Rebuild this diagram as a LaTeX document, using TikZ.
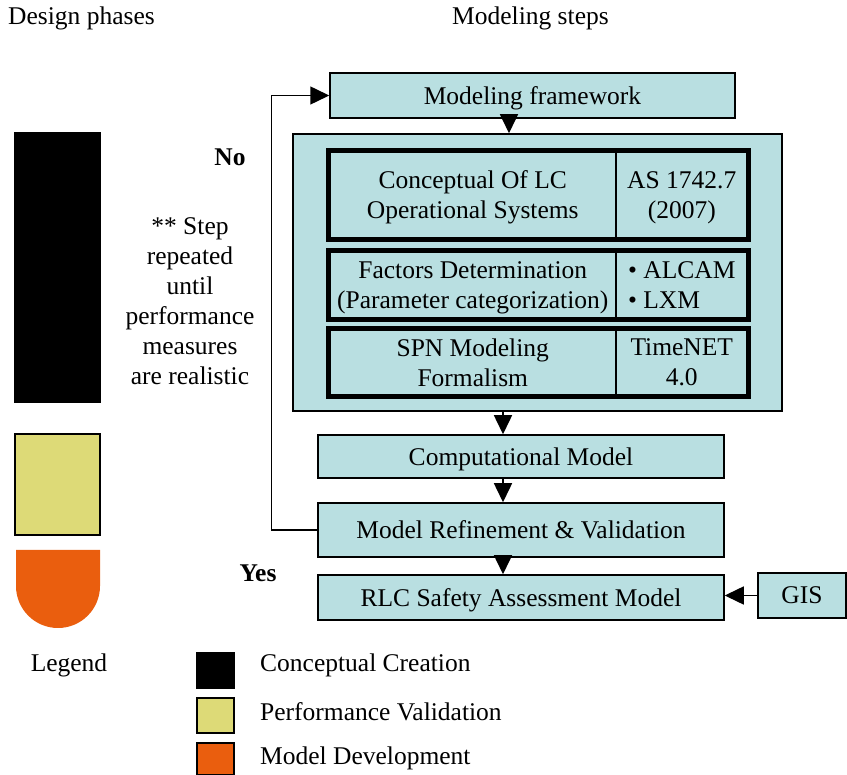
\documentclass[tikz,border=0pt]{standalone}
\usepackage{fontspec}
\setmainfont{Liberation Serif}
\usetikzlibrary{positioning,arrows.meta,calc}
\definecolor{stepfill}{HTML}{B9DFE1}
\definecolor{perfyellow}{HTML}{DDDA77}
\definecolor{devorange}{HTML}{EA5E0E}
\newcommand{\mytext}{\fontsize{25.5}{30}\selectfont}

\begin{document}
\begin{tikzpicture}[x=1pt,y=-1pt]
	\tikzset{
		mybox/.style={rectangle, draw=black, fill=stepfill, line width=1.5pt, inner sep=0pt, text depth=0pt, text centered, font=\mytext},
		mycell/.style={rectangle, draw=black, fill=stepfill, line width=2pt, inner sep=0pt, text depth=0pt, align=center, font=\mytext},
		myrow/.style={draw=black, line width=5pt},
		myarrow/.style={-{Triangle[width=18pt,length=19pt]}, line width=1.5pt},
		mylabel/.style={inner sep=0pt, font=\mytext},
		myswatch/.style={rectangle, draw=black, line width=1.5pt, inner sep=0pt}
	}
	\useasboundingbox (0,0) rectangle (847,775);

	% headings
	\node[mylabel, anchor=west] (phases) at (8,18) {Design phases};
	\node[mylabel, anchor=west] (steps) at (452,18) {Modeling steps};

	% design phase bars
	\node[myswatch, fill=black, minimum width=85, minimum height=269] (concbar) at (57.5,267.5) {};
	\node[myswatch, fill=perfyellow, minimum width=85, minimum height=101] (perfbar) at (57.5,484.5) {};
	\fill[devorange] (16,550) -- (100,550) -- (100,586) arc[start angle=0, end angle=-180, radius=42pt] -- cycle;

	% modeling steps
	\node[mybox, minimum width=405, minimum height=45] (frame) at (532.5,95.5) {Modeling framework};
	\node[mybox, minimum width=489, minimum height=277] (model) at (537.5,272.5) {};
	\node[mycell, minimum width=286.5, minimum height=87] (concL) at (472.75,195) {Conceptual Of LC\\Operational Systems};
	\node[mycell, minimum width=131.5, minimum height=87] (concR) at (681.75,195) {AS 1742.7\\(2007)};
	\node[mycell, minimum width=286.5, minimum height=67] (factL) at (472.75,285) {Factors Determination\\(Parameter categorization)};
	\node[mycell, minimum width=131.5, minimum height=67, align=left] (factR) at (681.75,285) {\textbullet\ ALCAM\\\textbullet\ LXM};
	\node[mycell, minimum width=286.5, minimum height=66] (spnL) at (472.75,362.5) {SPN Modeling\\Formalism};
	\node[mycell, minimum width=131.5, minimum height=66] (spnR) at (681.75,362.5) {TimeNET\\4.0};
	\draw[myrow] (concL.north west) rectangle (concR.south east);
	\draw[myrow] (factL.north west) rectangle (factR.south east);
	\draw[myrow] (spnL.north west) rectangle (spnR.south east);

	\node[mybox, minimum width=406, minimum height=43] (comp) at (521,456.5) {Computational Model};
	\node[mybox, minimum width=406, minimum height=54] (refine) at (521,530) {Model Refinement \& Validation};
	\node[mybox, minimum width=406, minimum height=45] (rlc) at (521,597.5) {RLC Safety Assessment Model};
	\node[mybox, minimum width=88, minimum height=45] (gis) at (802,595.5) {GIS};

	% side notes
	\node[mylabel, font=\mytext\bfseries] (no) at (230,157) {No};
	\node[mylabel, font=\mytext\bfseries] (yes) at (258,573) {Yes};
	\node[mylabel, align=center] (note) at (190,301) {** Step\\repeated\\until\\performance\\measures\\are realistic};

	% connectors
	\coordinate (col) at (503,0);
	\coordinate (col2) at (509,0);
	\draw[myarrow] (frame.south -| col2) -- (model.north -| col2);
	\draw[myarrow] (model.south -| col) -- (comp.north -| col);
	\draw[myarrow] (comp.south -| col) -- (refine.north -| col);
	\draw[myarrow] (refine.south -| col) -- (rlc.north -| col);
	\draw[myarrow] (gis.west) -- (rlc.east |- gis.west);
	\draw[myarrow] (refine.west) -- ++(-46,0) |- (frame.west);

	% legend
	\node[mylabel] (legend) at (69,665) {Legend};
	\node[myswatch, fill=black, minimum width=37, minimum height=35] (key1) at (215.5,670.5) {};
	\node[myswatch, fill=perfyellow, minimum width=37, minimum height=35] (key2) at (215.5,715.5) {};
	\node[myswatch, fill=devorange, minimum width=37, minimum height=32] (key3) at (215.5,759) {};
	\node[mylabel, anchor=west] (text1) at (260,665) {Conceptual Creation};
	\node[mylabel, anchor=west] (text2) at (260,712) {Performance Validation};
	\node[mylabel, anchor=west] (text3) at (260,758) {Model Development};
\end{tikzpicture}
\end{document}
